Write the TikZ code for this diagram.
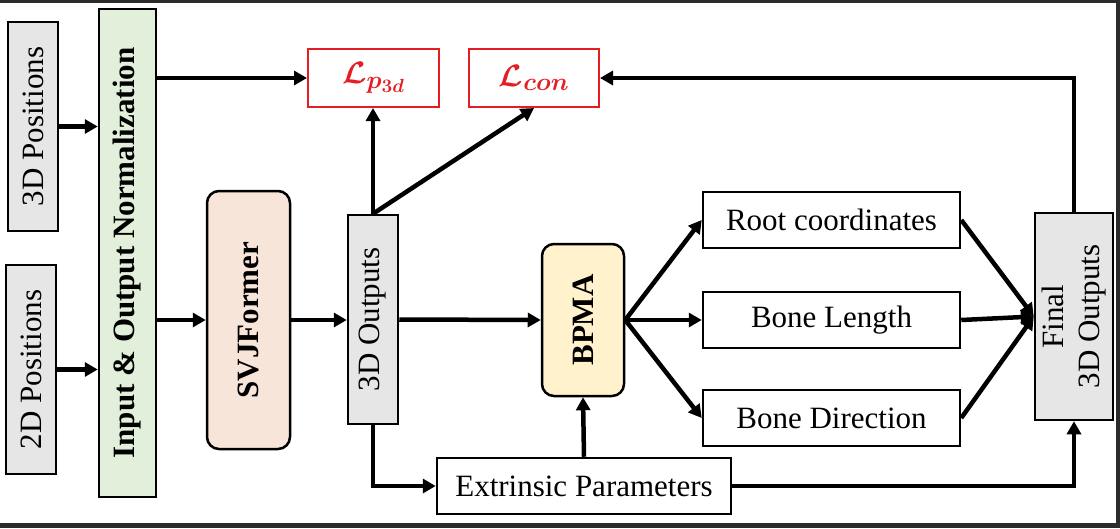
\RequirePackage{fix-cm}
\documentclass[tikz,border=0pt]{standalone}
\usepackage{amsmath}
\usepackage{fontspec}
\setmainfont{Liberation Serif}
\usetikzlibrary{arrows.meta}
\DeclareMathSizes{31}{31}{25}{19}

\definecolor{posgray}{RGB}{231,230,230}
\definecolor{normgreen}{RGB}{226,239,218}
\definecolor{svjpeach}{RGB}{248,229,217}
\definecolor{bpmayellow}{RGB}{255,242,204}
\definecolor{lossred}{RGB}{228,30,36}
\definecolor{framedark}{RGB}{43,43,43}

\begin{document}
\begin{tikzpicture}[x=1pt,y=-1pt,
  font=\fontsize{31}{36}\selectfont,
  box/.style={draw, line width=2.5pt, inner sep=0pt, align=center},
  grayvert/.style={box, fill=posgray, rotate=90, minimum width=209pt, minimum height=50pt},
  lossbox/.style={draw=lossred, line width=2pt, text=lossred, inner sep=0pt, minimum width=131pt, minimum height=58pt},
  outbox/.style={box, minimum width=257pt, minimum height=56pt},
  flow/.style={line width=4.5pt, -{Triangle[length=13pt,width=14pt]}},
  plainline/.style={line width=4.5pt}
]
% Set the page frame
\useasboundingbox (0,0) rectangle (1120,528);
\fill[framedark] (0,0) rectangle (1120,528);
\fill[white] (0,3) rectangle (1116,523);

% Input boxes and normalization
\node[grayvert] (pos3d) at (33,126.5) {3D Positions};
\node[grayvert] (pos2d) at (31,369.5) {2D Positions};
\node[box, fill=normgreen, rotate=90, minimum width=488pt, minimum height=57pt, font=\fontsize{31}{36}\selectfont\bfseries] (norm) at (127.5,253) {Input \& Output Normalization};

% Losses
\node[lossbox] (lp3d) at (373.5,78) {$\boldsymbol{\mathcal{L}_{p_{3d}}}$};
\node[lossbox, minimum width=130pt] (lcon) at (534,78) {$\boldsymbol{\mathcal{L}_{con}}$};

% Main branch
\node[box, fill=svjpeach, rounded corners=12pt, rotate=90, minimum width=258pt, minimum height=83pt, font=\fontsize{31}{36}\selectfont\bfseries] (svj) at (248.5,320) {SVJFormer};
\node[grayvert] (out3d) at (373,319.5) {3D Outputs};
\node[box, fill=bpmayellow, rounded corners=12pt, rotate=90, minimum width=152pt, minimum height=82pt, font=\fontsize{31}{36}\selectfont\bfseries] (bpma) at (583,320) {BPMA};
\node[box, minimum width=294pt, minimum height=56pt] (extr) at (584,486) {Extrinsic Parameters};

% BPMA outputs
\node[outbox] (root) at (831.5,220) {Root coordinates};
\node[outbox] (blen) at (831.5,320) {Bone Length};
\node[outbox] (bdir) at (831.5,418) {Bone Direction};
\node[box, fill=posgray, rotate=90, minimum width=207pt, minimum height=78pt] (final) at (1074,316.5) {Final\\3D Outputs};

% Connections
\draw[flow] (pos3d.south) -- (pos3d.south -| norm.north);
\draw[flow] (pos2d.south) -- (pos2d.south -| norm.north);
\draw[flow] (norm.south |- lp3d.west) -- (lp3d.west);
\draw[flow] (norm.south |- svj.north) -- (svj.north);
\draw[flow] (svj.south) -- (svj.south -| out3d.north);
\draw[flow] (out3d.east) -- (out3d.east |- lp3d.south);
\draw[flow] (out3d.east) -- (lcon.south);
\draw[flow] (out3d.south) -- (bpma.north);
\draw[flow] (out3d.west) |- (extr.west);
\draw[flow] (extr.north) -- (bpma.west);
\draw[flow] (bpma.south) -- (root.west);
\draw[flow] (bpma.south) -- (blen.west);
\draw[flow] (bpma.south) -- (bdir.west);
\draw[flow] (root.east) -- (final.north);
\draw[flow] (blen.east) -- (final.north);
\draw[flow] (bdir.east) -- (final.north);
\draw[flow] (extr.east) -| (final.west);
\draw[flow] (final.east) |- (lcon.east);
\end{tikzpicture}
\end{document}
